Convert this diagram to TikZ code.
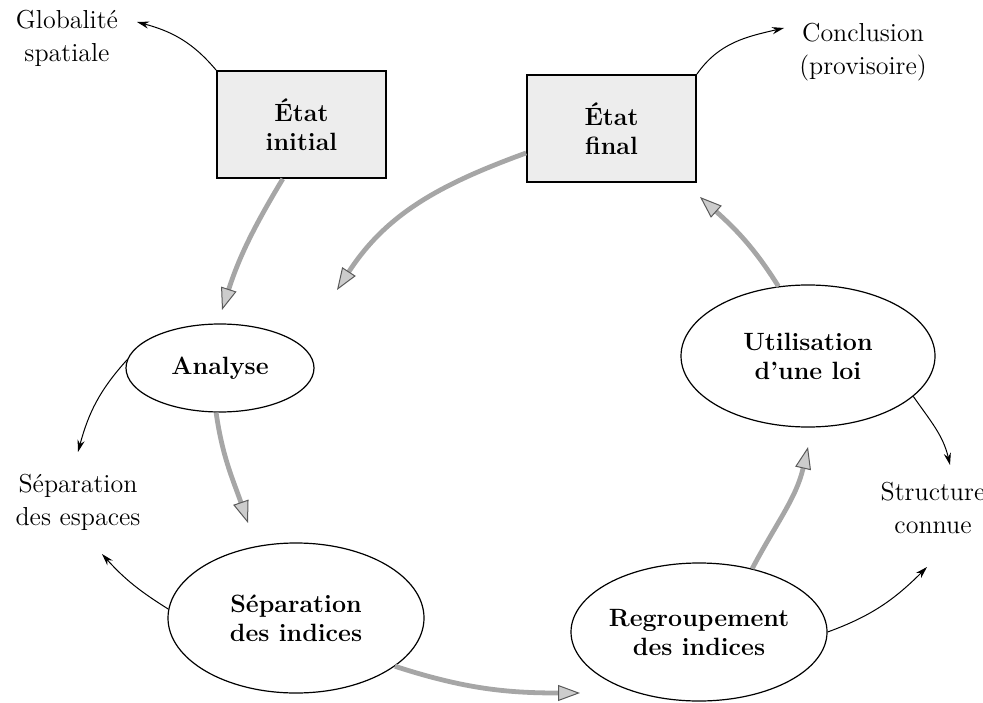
\documentclass[tikz,border=0pt]{standalone}
\usetikzlibrary{arrows.meta,shapes.geometric}
\begin{document}
\begin{tikzpicture}[x=0.5pt,y=0.5pt,
 statebox/.style={draw,line width=0.9pt,fill=gray!14,minimum width=84.5pt,minimum height=53.5pt,inner sep=0pt,align=center,font=\fontsize{12.5}{14.5}\selectfont\bfseries},
 stepell/.style={draw,ellipse,line width=0.6pt,inner sep=0pt,align=center,font=\fontsize{12.5}{14.5}\selectfont\bfseries},
 lbl/.style={align=center,font=\fontsize{13}{16.5}\selectfont,inner sep=0pt},
 thinarr/.style={-{Stealth[length=6pt,width=3.6pt]},line width=0.5pt},
 grayarr/.style={-{Triangle[length=11pt,width=8pt,fill=gray!40,color=black!65,line width=0.5pt]},line width=2.4pt,draw=gray!70}]
\useasboundingbox (0,0) rectangle (983,702);

% main nodes
\node[statebox] (ei) at (301.5,577.5) {État\\initial};
\node[statebox] (ef) at (611.5,573.5) {État\\final};
\node[stepell,minimum width=94pt,minimum height=44pt] (an) at (220,334) {Analyse};
\node[stepell,minimum width=128pt,minimum height=75pt] (si) at (296,84) {Séparation\\des indices};
\node[stepell,minimum width=128pt,minimum height=69pt] (rg) at (699,70) {Regroupement\\des indices};
\node[stepell,minimum width=127pt,minimum height=71pt] (ul) at (808,346) {Utilisation\\d’une loi};

% side labels
\node[lbl] (glob) at (67,664) {Globalité\\spatiale};
\node[lbl] (concl) at (863,650) {Conclusion\\(provisoire)};
\node[lbl] (sepesp) at (78,200) {Séparation\\des espaces};
\node[lbl] (struct) at (933,194) {Structure\\connue};

% free ends
\coordinate (gT) at (137,680);
\coordinate (cT) at (784,674);
\coordinate (seT1) at (78,250);
\coordinate (seT2) at (102,148);
\coordinate (stT1) at (950,237);
\coordinate (stT2) at (927,135);
\coordinate (g1) at (222,392);
\coordinate (g2) at (337,412);
\coordinate (g3) at (248,179);
\coordinate (g4) at (580,9);
\coordinate (g5) at (808,255);
\coordinate (g6) at (700,505);

% thin arrows
\draw[thinarr] (ei.north west) to[out=130,in=-15] (gT);
\draw[thinarr] (ef.north east) to[out=55,in=193] (cT);
\draw[thinarr] (an.175) to[out=228,in=75] (seT1);
\draw[thinarr] (si.176) to[out=148,in=-48] (seT2);
\draw[thinarr] (ul.-21) to[out=-55,in=103] (stT1);
\draw[thinarr] (rg.east) to[out=20,in=225] (stT2);

% gray cycle arrows
\draw[grayarr] (ei.-109) to[out=239,in=72] (g1);
\draw[grayarr] (ef.196) to[out=200,in=57] (g2);
\draw[grayarr] (an.265) to[out=-82,in=109] (g3);
\draw[grayarr] (si.-26) to[out=-18,in=180] (g4);
\draw[grayarr] (rg.50) to[out=62,in=257] (g5);
\draw[grayarr] (ul.113) to[out=122,in=318] (g6);
\end{tikzpicture}
\end{document}
